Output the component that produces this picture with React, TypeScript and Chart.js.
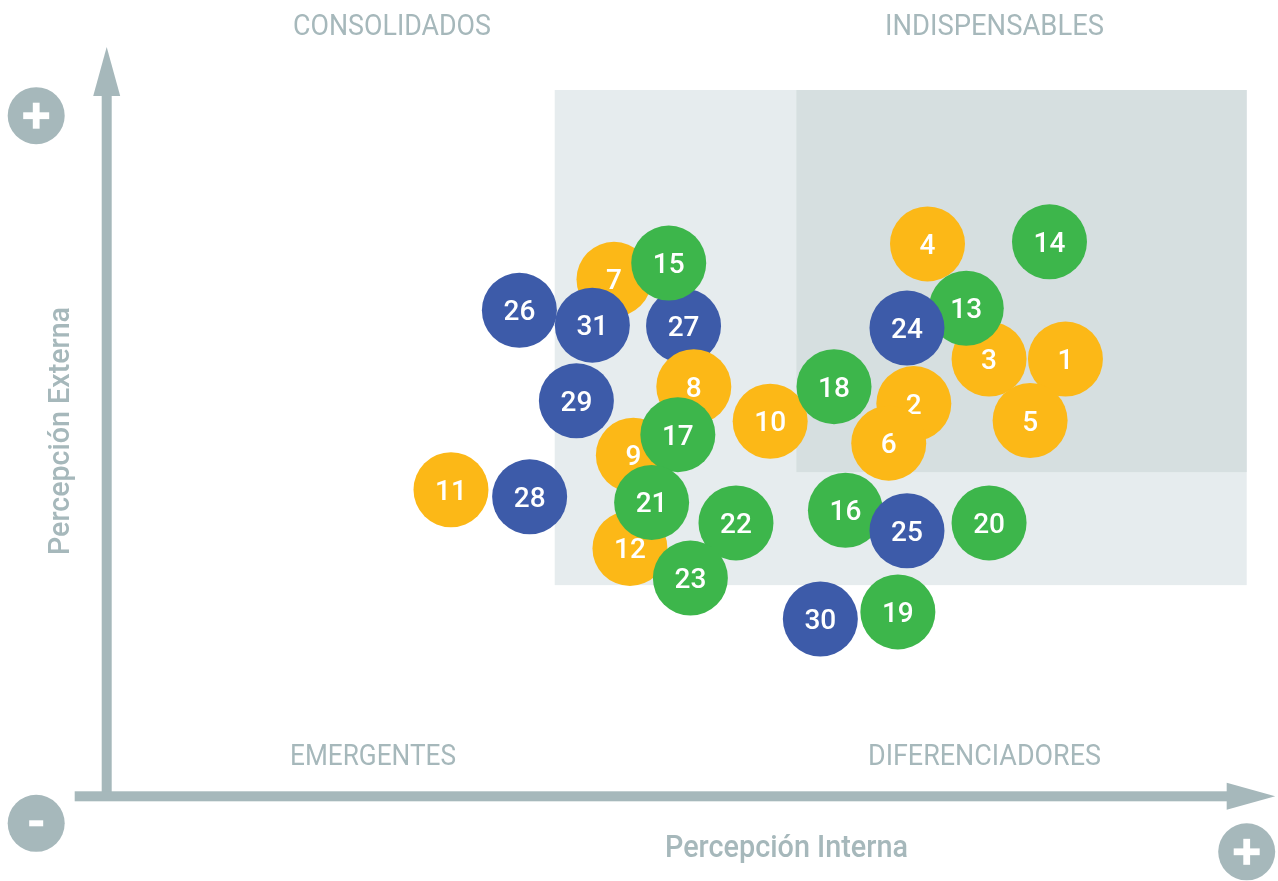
import React, { useEffect, useRef } from "react";
import { Chart, registerables } from "chart.js";

Chart.register(...registerables);

// ---- data ----
const bubbleIds = [
  1, 2, 3, 4, 5, 6, 7, 8, 9, 10, 11, 12, 13, 14, 15, 16, 17, 18, 19, 20, 21, 22, 23, 24, 25, 26, 27, 28, 29, 30, 31,
];
// Percepción Interna (0-100)
const xValues = [
  84.1, 70.8, 77.4, 72.0, 81.0, 68.6, 44.5, 51.5, 46.2, 58.2, 30.2, 45.9, 75.4, 82.7, 49.3, 64.8, 50.1, 63.8, 69.4,
  77.4, 47.8, 55.2, 51.2, 70.2, 70.2, 36.2, 50.6, 37.1, 41.2, 62.6, 42.6,
];
// Percepción Externa (0-100)
const yValues = [
  61.9, 55.6, 61.9, 78.2, 53.2, 50.0, 73.2, 58.0, 48.3, 53.1, 43.4, 35.1, 69.1, 78.5, 75.5, 40.5, 51.2, 58.0, 26.1,
  38.7, 41.6, 38.7, 30.9, 66.3, 37.6, 68.8, 66.6, 42.4, 56.0, 25.1, 66.7,
];
const groups = [
  "A", "A", "A", "A", "A", "A", "A", "A", "A", "A", "A", "A",
  "B", "B", "B", "B", "B", "B", "B", "B", "B", "B", "B",
  "C", "C", "C", "C", "C", "C", "C", "C",
];
// drawing order, bottom to top
const stackOrder = [
  27, 1, 2, 3, 4, 5, 6, 7, 8, 9, 10, 11, 12, 13, 14, 15, 16, 17, 18, 19, 20, 21, 22, 23, 24, 25, 26, 28, 29, 30, 31,
];
const groupColors: Record<string, string> = { A: "#FCB817", B: "#3DB64B", C: "#3D5BA9" };

const quadrantLabels = ["CONSOLIDADOS", "INDISPENSABLES", "EMERGENTES", "DIFERENCIADORES"];
const xAxisTitle = "Percepción Interna";
const yAxisTitle = "Percepción Externa";

// shaded zones [xMin, xMax, yMin, yMax]
const lightZone = [39.3, 100, 29.9, 100];
const darkZone = [60.5, 100, 45.9, 100];

const GRAY = "#A6B8BB";
const BUBBLE_R = 37.5;

function fitText(ctx: CanvasRenderingContext2D, text: string, x: number, y: number, font: string, width: number) {
  ctx.save();
  ctx.font = font;
  const w = ctx.measureText(text).width;
  ctx.translate(x, y);
  ctx.scale(width / w, 1);
  ctx.textAlign = "center";
  ctx.textBaseline = "alphabetic";
  ctx.fillText(text, 0, 0);
  ctx.restore();
}

function signCircle(ctx: CanvasRenderingContext2D, cx: number, cy: number, plus: boolean) {
  ctx.save();
  ctx.fillStyle = GRAY;
  ctx.beginPath();
  ctx.arc(cx, cy, 28.5, 0, Math.PI * 2);
  ctx.fill();
  ctx.fillStyle = "#FFFFFF";
  if (plus) {
    ctx.fillRect(cx - 13, cy - 3.4, 26, 6.8);
    ctx.fillRect(cx - 3.4, cy - 13, 6.8, 26);
  } else {
    ctx.fillRect(cx - 7, cy - 3, 14, 6);
  }
  ctx.restore();
}

const decorPlugin = {
  id: "decor",
  beforeDatasetsDraw(chart: any) {
    const ctx: CanvasRenderingContext2D = chart.ctx;
    const xs = chart.scales.x;
    const ys = chart.scales.y;
    const rect = (z: number[], color: string) => {
      const x0 = xs.getPixelForValue(z[0]);
      const x1 = xs.getPixelForValue(z[1]);
      const y0 = ys.getPixelForValue(z[3]);
      const y1 = ys.getPixelForValue(z[2]);
      ctx.fillStyle = color;
      ctx.fillRect(x0, y0, x1 - x0, y1 - y0);
    };
    ctx.save();
    rect(lightZone, "#E6ECEE");
    rect(darkZone, "#D6DFE0");

    const ox = xs.getPixelForValue(0);
    const oy = ys.getPixelForValue(0);
    const top = ys.getPixelForValue(100);
    const right = xs.getPixelForValue(100);
    ctx.fillStyle = GRAY;
    // vertical axis arrow
    ctx.fillRect(ox - 5, top + 3, 10, oy - top);
    ctx.beginPath();
    ctx.moveTo(ox, top - 43);
    ctx.lineTo(ox + 13.5, top + 6);
    ctx.lineTo(ox - 13.5, top + 6);
    ctx.closePath();
    ctx.fill();
    // horizontal axis arrow
    ctx.fillRect(ox - 32, oy - 5, right - ox + 32 - 18, 10);
    ctx.beginPath();
    ctx.moveTo(right + 28.5, oy);
    ctx.lineTo(right - 20, oy - 13.5);
    ctx.lineTo(right - 20, oy + 13.5);
    ctx.closePath();
    ctx.fill();

    signCircle(ctx, ox - 70.5, top + 25.7, true);
    signCircle(ctx, ox - 70.5, oy + 27, false);
    signCircle(ctx, right, oy + 55.5, true);

    // quadrant labels
    ctx.fillStyle = GRAY;
    const qf = "400 29.5px Roboto";
    fitText(ctx, quadrantLabels[0], 392, 35, qf, 198);
    fitText(ctx, quadrantLabels[1], 994.5, 35, qf, 219);
    fitText(ctx, quadrantLabels[2], 373, 765, qf, 166);
    fitText(ctx, quadrantLabels[3], 984.5, 765, qf, 233);

    // axis titles
    fitText(ctx, xAxisTitle, 786.5, 857, "500 31px Roboto", 243);
    ctx.save();
    ctx.translate(69, 431);
    ctx.rotate(-Math.PI / 2);
    fitText(ctx, yAxisTitle, 0, 0, "500 30px Roboto", 248);
    ctx.restore();
    ctx.restore();
  },
  afterDatasetDraw(chart: any, args: any) {
    const ctx: CanvasRenderingContext2D = chart.ctx;
    const ds = chart.data.datasets[args.index];
    const el = args.meta.data[0];
    if (!el) return;
    ctx.save();
    ctx.fillStyle = "#FFFFFF";
    ctx.font = "500 28px Roboto";
    ctx.textAlign = "center";
    ctx.textBaseline = "middle";
    ctx.fillText(String(ds.label), el.x, el.y + 3);
    ctx.restore();
  },
};

export default function App() {
  const canvasRef = useRef<HTMLCanvasElement | null>(null);

  useEffect(() => {
    if (!canvasRef.current) return;
    // Chart.js draws datasets from last to first, so list top-most first
    const topFirst = [...stackOrder].reverse();
    const datasets = topFirst.map((id) => {
      const i = bubbleIds.indexOf(id);
      const color = groupColors[groups[i]];
      return {
        label: String(id),
        data: [{ x: xValues[i], y: yValues[i], r: BUBBLE_R }],
        backgroundColor: color,
        hoverBackgroundColor: color,
        borderWidth: 0,
        hoverBorderWidth: 0,
        hoverRadius: 0,
        clip: false as any,
      };
    });
    const chart = new Chart(canvasRef.current, {
      type: "bubble",
      data: { datasets },
      options: {
        responsive: false,
        animation: false,
        events: [],
        layout: { autoPadding: false, padding: { left: 106.7, right: 31.3, top: 90, bottom: 84.7 } },
        scales: {
          x: { type: "linear", min: 0, max: 100, display: false },
          y: { type: "linear", min: 0, max: 100, display: false },
        },
        plugins: { legend: { display: false }, tooltip: { enabled: false } },
      },
      plugins: [decorPlugin],
    });
    return () => chart.destroy();
  }, []);

  return (
    <div style={{ position: "fixed", left: 0, top: 0, width: 1278, height: 881, background: "#FFFFFF" }}>
      <canvas ref={canvasRef} width={1278} height={881} style={{ display: "block" }} />
    </div>
  );
}
